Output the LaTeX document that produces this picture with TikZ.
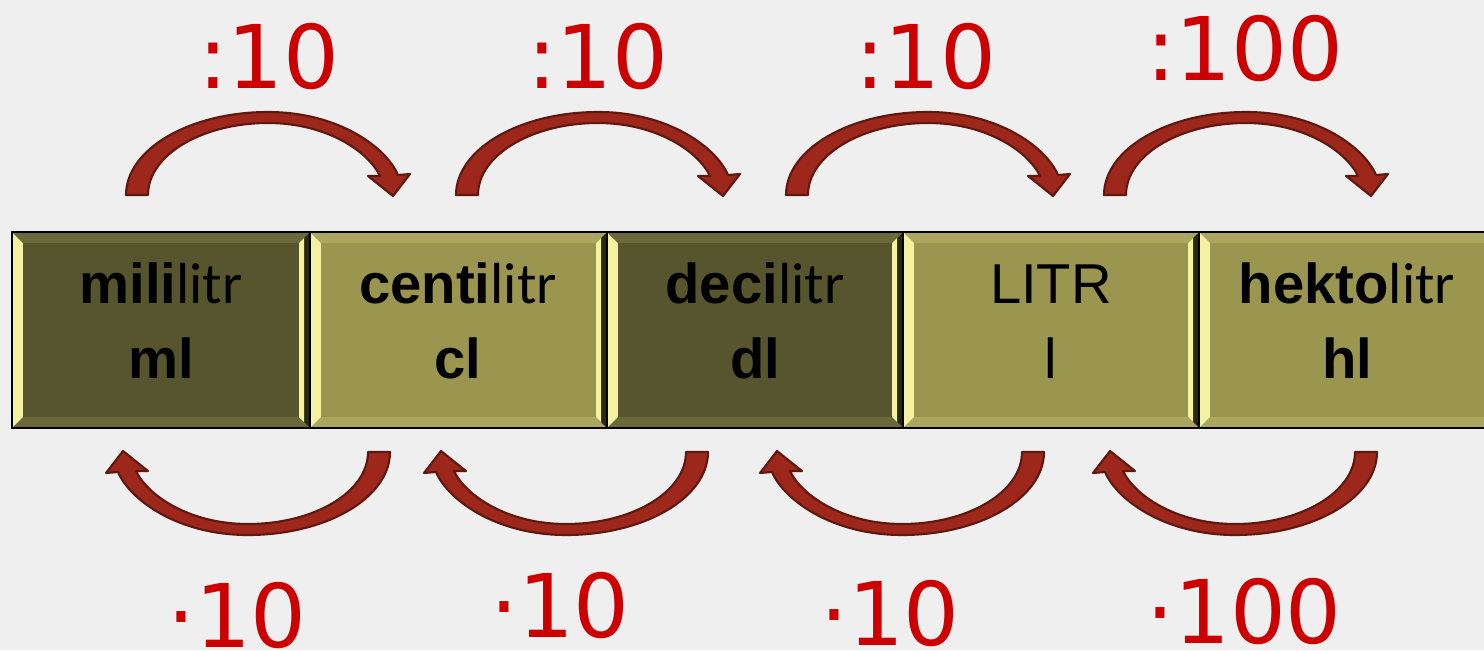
\documentclass[tikz,border=0pt]{standalone}
\usepackage{fontspec}
\setmainfont{Liberation Sans}
\newfontfamily\litrfont{Carlito}
\newfontfamily\labelfont{DejaVu Sans}
\usetikzlibrary{positioning}

\definecolor{bgcolor}{HTML}{EFEFEF}
\definecolor{darkolive}{HTML}{57552D}
\definecolor{darkbevel}{HTML}{6B683A}
\definecolor{lightolive}{HTML}{9A954F}
\definecolor{lightbevel}{HTML}{ACA65E}
\definecolor{bevelyellow}{HTML}{F4F2A2}
\definecolor{beveldark}{HTML}{28280F}
\definecolor{arrowred}{HTML}{9C271A}
\definecolor{arrowdark}{HTML}{5E1810}
\definecolor{labelred}{HTML}{CC0000}

\begin{document}
\begin{tikzpicture}[
  x=0.02cm, y=-0.02cm,
  unitname/.style={anchor=base, inner sep=0pt, font=\fontsize{32}{38}\selectfont},
  unitsym/.style={anchor=base, inner sep=0pt, font=\bfseries\fontsize{32}{38}\selectfont},
  factor/.style={anchor=base, inner sep=0pt, text=labelred, font=\labelfont\fontsize{50}{60}\selectfont},
  bendarrow/.pic={
    \filldraw[fill=arrowred, draw=arrowdark, line width=1.2pt, line join=round]
      (-142,0) .. controls (-142,-46) and (-78,-83) .. (0,-83)
      .. controls (70,-83) and (118,-48) .. (130,-20)
      -- (142,-21) -- (125,1) -- (100,-19) -- (112,-19)
      .. controls (100,-44) and (58,-72) .. (0,-72)
      .. controls (-66,-72) and (-120,-40) .. (-120,0) -- cycle;
  }
]
\useasboundingbox (0,0) rectangle (1484,650);
\clip (0,0) rectangle (1484,650);
\fill[bgcolor] (0,0) rectangle (1484,650);

% bevelled boxes
\foreach \a/\b/\fillc/\bevc in {12/310/darkolive/darkbevel, 310/607/lightolive/lightbevel,
    607/903/darkolive/darkbevel, 903/1199/lightolive/lightbevel, 1199/1495/lightolive/lightbevel} {
  \fill[bevelyellow] (\a,232) -- (\a+11,243) -- (\a+11,417) -- (\a,428) -- cycle;
  \fill[\bevc] (\a,232) -- (\b,232) -- (\b-11,243) -- (\a+11,243) -- cycle;
  \fill[\bevc] (\a,428) -- (\a+11,417) -- (\b-11,417) -- (\b,428) -- cycle;
  \fill[beveldark] (\b,232) -- (\b,428) -- (\b-11,417) -- (\b-11,243) -- cycle;
  \fill[bevelyellow] (\b-11,243) -- (\b-6,238) -- (\b-6,422) -- (\b-11,417) -- cycle;
  \fill[\fillc] (\a+11,243) rectangle (\b-11,417);
  \draw[black, line width=1.4pt] (\a,232) rectangle (\b,428);
}

% unit names
\node[unitname] (mlname) at (161,303) {\textbf{mili}{\litrfont\fontsize{33}{38}\selectfont litr}};
\node[unitsym]  (mlsym)  at (161,378) {ml};
\node[unitname] (clname) at (458,303) {\textbf{centi}{\litrfont\fontsize{33}{38}\selectfont litr}};
\node[unitsym]  (clsym)  at (458,378) {cl};
\node[unitname] (dlname) at (755,303) {\textbf{deci}{\litrfont\fontsize{33}{38}\selectfont litr}};
\node[unitsym]  (dlsym)  at (755,378) {dl};
\node[unitname] (lname)  at (1051,303) {LITR};
\node[unitname] (lsym)   at (1051,378) {l};
\node[unitname] (hlname) at (1347,303) {\textbf{hekto}{\litrfont\fontsize{33}{38}\selectfont litr}};
\node[unitsym]  (hlsym)  at (1347,378) {hl};

% arrows over and under
\pic at (268,195) {bendarrow};
\pic at (598,195) {bendarrow};
\pic at (928,195) {bendarrow};
\pic at (1246,195) {bendarrow};
\pic[rotate=180] at (248,452) {bendarrow};
\pic[rotate=180] at (566,452) {bendarrow};
\pic[rotate=180] at (902,452) {bendarrow};
\pic[rotate=180] at (1235,452) {bendarrow};

% factors
\node[factor] (div1) at (269,88) {:10};
\node[factor] (div2) at (598,88) {:10};
\node[factor] (div3) at (926,88) {:10};
\node[factor] (div4) at (1245,80) {:100};
\node[factor] (mul1) at (237,647) {·10};
\node[factor] (mul2) at (560,637) {·10};
\node[factor] (mul3) at (890,645) {·10};
\node[factor] (mul4) at (1244,643) {·100};
\end{tikzpicture}
\end{document}
